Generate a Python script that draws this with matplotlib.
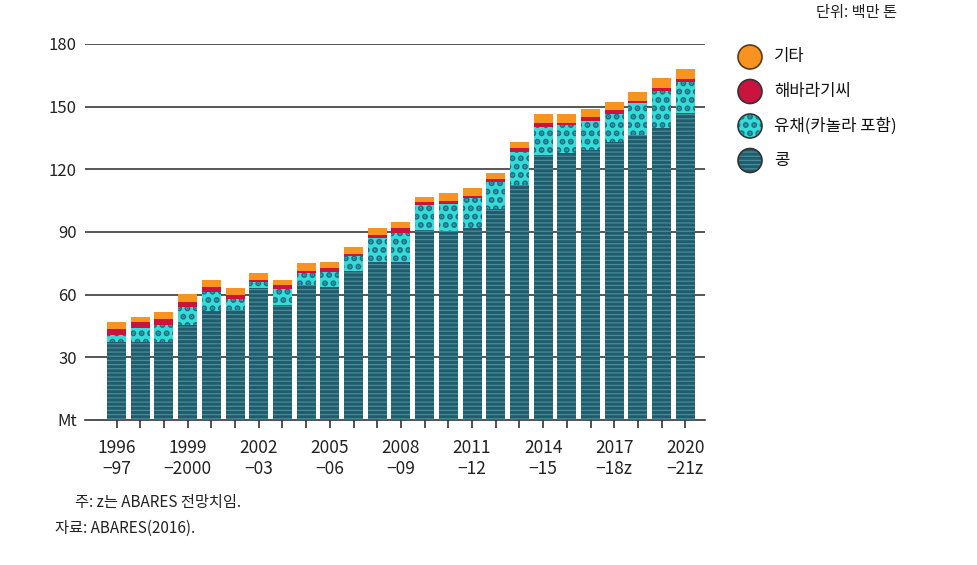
import matplotlib as mpl
import matplotlib.pyplot as plt
from matplotlib.patches import Circle
import numpy as np

plt.rcParams['font.family'] = ['Noto Sans CJK KR', 'DejaVu Sans']

# Data (Mt), 1996-97 .. 2020-21
seasons = ['1996\n\u221297', '', '', '1999\n\u22122000', '', '', '2002\n\u221203', '', '',
           '2005\n\u221206', '', '', '2008\n\u221209', '', '', '2011\n\u221212', '', '',
           '2014\n\u221215', '', '', '2017\n\u221218z', '', '', '2020\n\u221221z']
soy = [37.5, 37.5, 37.5, 45.5, 52.3, 52.7, 63.0, 55.0, 64.6, 63.8, 71.5, 75.8, 75.8,
       91.0, 90.5, 92.0, 101.0, 112.5, 126.9, 127.7, 129.2, 133.2, 136.4, 140.0, 147.0]
canola = [3.2, 6.4, 8.0, 8.7, 9.1, 5.2, 3.2, 7.6, 5.9, 7.2, 7.0, 11.5, 13.6,
          11.9, 12.7, 14.1, 13.1, 15.9, 13.5, 13.5, 14.1, 13.3, 15.2, 17.6, 15.0]
sunflower = [2.9, 3.2, 2.8, 2.4, 2.4, 1.9, 0.8, 2.0, 1.0, 1.6, 1.0, 1.5, 2.4,
             1.3, 1.8, 1.1, 1.3, 1.7, 1.9, 1.1, 1.9, 1.9, 1.3, 1.2, 1.1]
other = [3.5, 2.4, 3.6, 3.7, 3.2, 3.2, 3.5, 2.4, 3.5, 3.2, 3.5, 3.0, 3.1,
         2.7, 3.8, 3.7, 3.0, 3.1, 4.2, 4.2, 3.5, 4.0, 4.3, 4.8, 4.8]

labels = ['기타', '해바라기씨', '유채(카놀라 포함)', '콩']
yticks = [0, 30, 60, 90, 120, 150, 180]
ytick_labels = ['Mt', '30', '60', '90', '120', '150', '180']

# styles: face, hatch colour, hatch, hatch linewidth
styles = {
    '콩': ('#215c6c', '#478c99', '----', 0.9),
    '유채(카놀라 포함)': ('#36dcd6', '#1f6f88', '..', 3.0),
    '해바라기씨': ('#c8143e', None, None, 1.0),
    '기타': ('#f7931e', None, None, 1.0),
}

fig = plt.figure(figsize=(9.78, 5.65), dpi=100)
ax = fig.add_axes([85 / 978, 1 - 420 / 565, 620 / 978, 376 / 565])

x = np.arange(len(soy))
width = 0.8
bottom = np.zeros(len(soy))
for name, vals in [('콩', soy), ('유채(카놀라 포함)', canola),
                   ('해바라기씨', sunflower), ('기타', other)]:
    face, hcol, hatch, hlw = styles[name]
    with mpl.rc_context({'hatch.linewidth': hlw}):
        if hatch:
            ax.bar(x, vals, width, bottom=bottom, color=face, edgecolor=hcol,
                   hatch=hatch, linewidth=0, zorder=3)
        else:
            ax.bar(x, vals, width, bottom=bottom, color=face, linewidth=0, zorder=3)
    bottom += np.array(vals)

# gridlines
for yv in yticks[1:]:
    ax.axhline(yv, color='#3a3a3a', lw=1.2, zorder=1)

ax.set_ylim(0, 180)
ax.set_xlim(-1.33, 24.83)
ax.set_yticks(yticks)
ax.set_yticklabels(ytick_labels, fontsize=12, color='#222222')
ax.tick_params(axis='y', length=0, pad=6)
ax.set_xticks(x)
ax.set_xticklabels(seasons, fontsize=12.5, color='#222222', linespacing=1.2)
ax.tick_params(axis='x', length=6, width=1.2, color='#333333', pad=8)
for s in ['top', 'right', 'left']:
    ax.spines[s].set_visible(False)
ax.spines['bottom'].set_color('#333333')
ax.spines['bottom'].set_linewidth(1.2)

# legend (pixel coordinates)
lax = fig.add_axes([730 / 978, 1 - 180 / 565, 240 / 978, 150 / 565])
lax.set_xlim(0, 240)
lax.set_ylim(150, 0)
lax.axis('off')
for i, name in enumerate(labels):
    cy = 27 + i * 34.5
    face, hcol, hatch, hlw = styles[name]
    lax.add_patch(Circle((20, cy), 12, facecolor=face,
                         edgecolor='#5a3a1a' if name == '기타' else '#333333', lw=1.2))
    if hatch:
        with mpl.rc_context({'hatch.linewidth': hlw}):
            lax.add_patch(Circle((20, cy), 11, facecolor='none', edgecolor=hcol,
                                 hatch=hatch, lw=0))
    lax.text(44, cy, name, fontsize=12, va='center', ha='left', color='#111111')

fig.text(897 / 978, 1 - 12 / 565, '단위: 백만 톤', fontsize=11, ha='right', va='center',
         color='#222222')
fig.text(75 / 978, 1 - 503 / 565, '주: z는 ABARES 전망치임.', fontsize=11, ha='left',
         va='center', color='#222222')
fig.text(55 / 978, 1 - 528 / 565, '자료: ABARES(2016).', fontsize=11, ha='left',
         va='center', color='#222222')

fig.savefig('out.png', dpi=100)
